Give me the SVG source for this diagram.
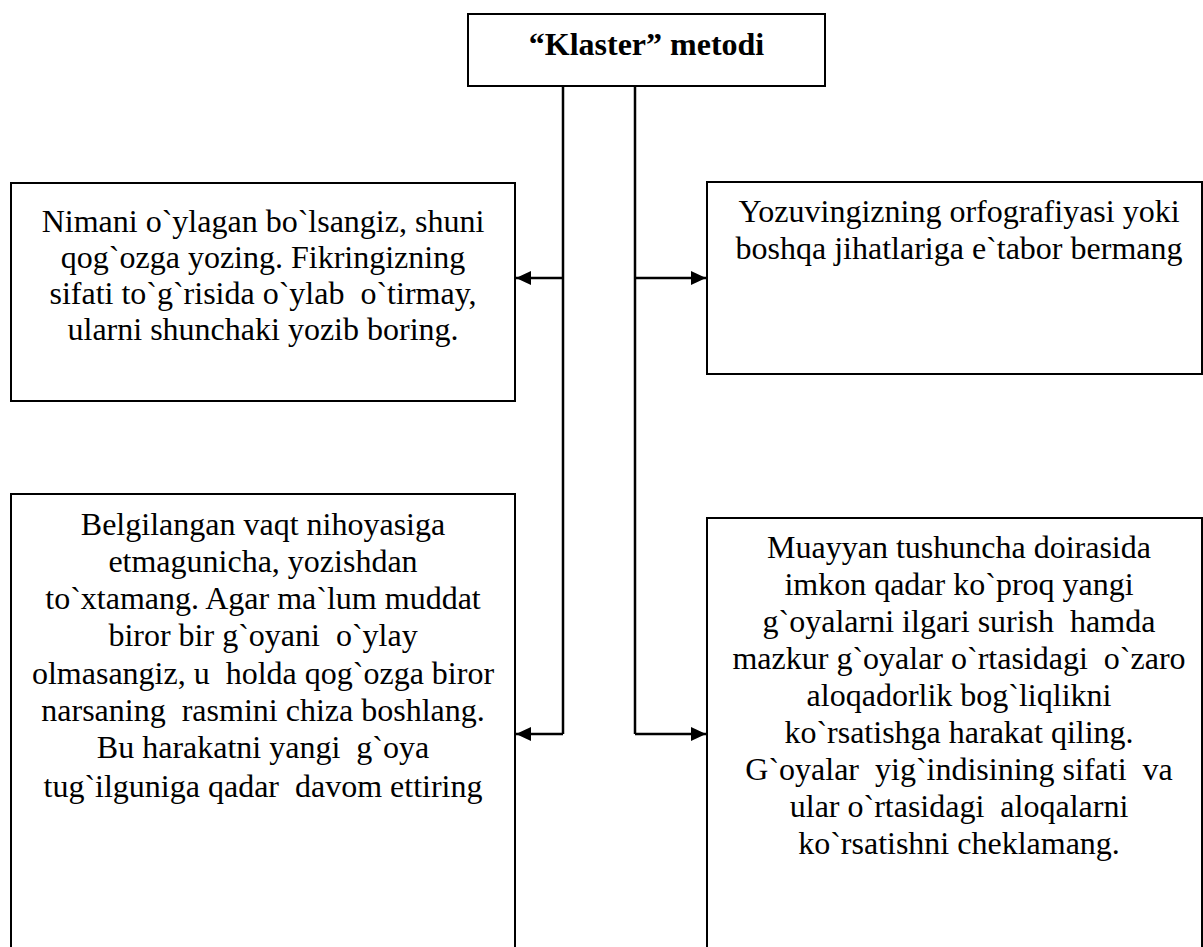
<svg xmlns="http://www.w3.org/2000/svg" width="1203" height="947" viewBox="0 0 1203 947">
<style>
.box{fill:#fff;stroke:#000;stroke-width:2}
.t{font-family:"Liberation Serif","Times New Roman",serif;font-size:32px;fill:#000;text-anchor:middle;white-space:pre}
.title{font-weight:bold}
.c{fill:none;stroke:#000;stroke-width:2.5}
</style>
<defs>
<marker id="ah" markerWidth="15" markerHeight="14" refX="15" refY="7" orient="auto" markerUnits="userSpaceOnUse">
<path d="M0,0 L15,7 L0,14 Z" fill="#000"/>
</marker>
</defs>
<rect width="1203" height="947" fill="#fff"/>
<g id="connectors">
<path class="c" d="M563,86 V734"/>
<path class="c" d="M635,86 V734"/>
<path class="c" d="M563,278 H516" marker-end="url(#ah)"/>
<path class="c" d="M563,734 H516" marker-end="url(#ah)"/>
<path class="c" d="M635,278 H706" marker-end="url(#ah)"/>
<path class="c" d="M635,734 H706" marker-end="url(#ah)"/>
</g>
<g id="title">
<rect class="box" x="468" y="14" width="357" height="72"/>
<text class="t title" x="646.5" y="55">“Klaster” metodi</text>
</g>
<g id="box-top-left">
<rect class="box" x="11" y="183" width="504" height="218"/>
<text class="t" xml:space="preserve"><tspan x="263" y="232">Nimani o`ylagan bo`lsangiz, shuni</tspan><tspan x="263" y="268">qog`ozga yozing. Fikringizning</tspan><tspan x="263" y="304">sifati to`g`risida o`ylab  o`tirmay,</tspan><tspan x="263" y="340">ularni shunchaki yozib boring.</tspan></text>
</g>
<g id="box-top-right">
<rect class="box" x="707" y="182" width="495" height="192"/>
<text class="t" xml:space="preserve"><tspan x="959" y="222">Yozuvingizning orfografiyasi yoki</tspan><tspan x="959" y="259">boshqa jihatlariga e`tabor bermang</tspan></text>
</g>
<g id="box-bottom-left">
<rect class="box" x="11" y="494" width="504" height="470"/>
<text class="t" xml:space="preserve"><tspan x="263" y="535">Belgilangan vaqt nihoyasiga</tspan><tspan x="263" y="572">etmagunicha, yozishdan</tspan><tspan x="263" y="609">to`xtamang. Agar ma`lum muddat</tspan><tspan x="263" y="646">biror bir g`oyani  o`ylay</tspan><tspan x="263" y="684">olmasangiz, u  holda qog`ozga biror</tspan><tspan x="263" y="721">narsaning  rasmini chiza boshlang.</tspan><tspan x="263" y="758">Bu harakatni yangi  g`oya</tspan><tspan x="263" y="797">tug`ilguniga qadar  davom ettiring</tspan></text>
</g>
<g id="box-bottom-right">
<rect class="box" x="707" y="518" width="495" height="460"/>
<text class="t" xml:space="preserve"><tspan x="959" y="558">Muayyan tushuncha doirasida</tspan><tspan x="959" y="595">imkon qadar ko`proq yangi</tspan><tspan x="959" y="632">g`oyalarni ilgari surish  hamda</tspan><tspan x="959" y="669">mazkur g`oyalar o`rtasidagi  o`zaro</tspan><tspan x="959" y="706">aloqadorlik bog`liqlikni</tspan><tspan x="959" y="743">ko`rsatishga harakat qiling.</tspan><tspan x="959" y="780">G`oyalar  yig`indisining sifati  va</tspan><tspan x="959" y="817">ular o`rtasidagi  aloqalarni</tspan><tspan x="959" y="854">ko`rsatishni cheklamang.</tspan></text>
</g>
</svg>
